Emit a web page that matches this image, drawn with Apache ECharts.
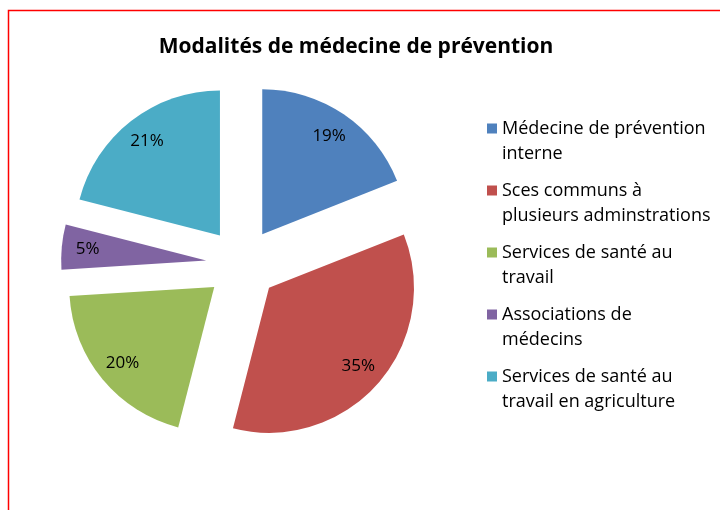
<!DOCTYPE html>
<html>
<head>
<meta charset="utf-8">
<script src="https://cdn.jsdelivr.net/npm/echarts@6/dist/echarts.min.js"></script>
<style>
  html, body { margin: 0; padding: 0; background: #fff; }
  #chart { width: 720px; height: 510px; }
</style>
</head>
<body>
<div id="chart"></div>
<script>
// Shares of each prevention-medicine arrangement (%)
const categories = [
  'Médecine de prévention interne',
  'Sces communs à plusieurs adminstrations',
  'Services de santé au travail',
  'Associations de médecins',
  'Services de santé au travail en agriculture'
];
const legendLines = [
  ['Médecine de prévention', 'interne'],
  ['Sces communs à', 'plusieurs adminstrations'],
  ['Services de santé au', 'travail'],
  ['Associations de', 'médecins'],
  ['Services de santé au', 'travail en agriculture']
];
const values = [19, 35, 20, 5, 21];
const colors = ['#4F81BD', '#C0504D', '#9BBB59', '#8064A2', '#4BACC6'];

const FONT = '"Open Sans", Lato, sans-serif';
const CX = 242, CY = 264, R = 145, EXPLODE = 36;

const sliceData = categories.map((name, i) => ({
  name, value: values[i], selected: true,
  itemStyle: { color: colors[i] }
}));

const chart = echarts.init(document.getElementById('chart'), null, { renderer: 'canvas' });
chart.setOption({
  animation: false,
  color: colors,
  title: {
    text: 'Modalités de médecine de prévention',
    left: 351, top: 32, textAlign: 'center',
    textStyle: { fontFamily: FONT, fontWeight: 'bold', fontSize: 21, color: '#000' }
  },
  legend: {
    orient: 'vertical',
    left: 482, top: 86,
    itemWidth: 10, itemHeight: 10,
    itemGap: -13,
    selectedMode: false,
    icon: 'rect',
    data: categories,
    // an empty first line keeps the swatch level with the first text line
    formatter: name => '\n' + legendLines[categories.indexOf(name)].join('\n'),
    textStyle: {
      fontFamily: FONT, fontSize: 18, color: '#000', lineHeight: 25
    }
  },
  graphic: [{
    type: 'polyline',
    shape: { points: [[8.5, 520], [8.5, 10.5], [730, 10.5]] },
    style: { stroke: '#FF0000', lineWidth: 1.5, fill: null },
    silent: true
  }],
  series: [{
    type: 'pie',
    center: [CX, CY],
    radius: [0, R],
    startAngle: 90,
    clockwise: true,
    selectedMode: 'multiple',
    selectedOffset: EXPLODE,
    silent: true,
    label: { show: false },
    labelLine: { show: false },
    emphasis: { disabled: true },
    select: { itemStyle: { borderWidth: 0 } },
    data: sliceData
  }, {
    // transparent ring that carries the percentage labels at ~0.8 R
    type: 'pie',
    center: [CX, CY],
    radius: [R * 0.6, R],
    startAngle: 90,
    clockwise: true,
    selectedMode: 'multiple',
    selectedOffset: EXPLODE,
    silent: true,
    itemStyle: { color: 'rgba(0,0,0,0)' },
    label: {
      show: true, position: 'inside',
      formatter: p => p.value + '%',
      fontFamily: FONT, fontSize: 17, color: '#000'
    },
    labelLine: { show: false },
    emphasis: { disabled: true },
    data: categories.map((name, i) => ({ name, value: values[i], selected: true }))
  }]
});
</script>
</body>
</html>
